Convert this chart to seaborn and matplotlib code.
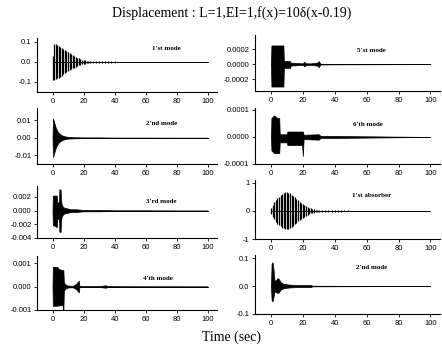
import matplotlib
matplotlib.use("Agg")
import matplotlib.pyplot as plt
import seaborn as sns

# envelopes: time (sec), upper and lower displacement
# 1'st mode (spiky)
m1_t = [0, 1, 2, 3, 4, 5, 6, 7, 8, 9, 10, 11, 12, 13, 14, 15, 16, 17, 18, 19, 20,
        21, 22, 23, 24, 26, 28, 30, 32, 34, 36, 38, 40, 42, 44, 46, 48, 50, 100]
m1_up = [0.03, 0.09, 0.088, 0.085, 0.08, 0.075, 0.07, 0.064, 0.058, 0.053, 0.048,
         0.043, 0.038, 0.033, 0.029, 0.025, 0.021, 0.018, 0.015, 0.012, 0.010,
         0.008, 0.007, 0.006, 0.005, 0.004, 0.004, 0.005, 0.005, 0.004, 0.004,
         0.003, 0.003, 0.002, 0.002, 0.002, 0.001, 0.001, 0]
m1_lo = [-0.09, -0.088, -0.085, -0.082, -0.078, -0.073, -0.068, -0.062, -0.057,
         -0.052, -0.047, -0.042, -0.037, -0.032, -0.028, -0.024, -0.020, -0.017,
         -0.014, -0.011, -0.009, -0.008, -0.007, -0.006, -0.005, -0.004, -0.004,
         -0.005, -0.005, -0.004, -0.004, -0.003, -0.003, -0.002, -0.002, -0.002,
         -0.001, -0.001, 0]

# 2'nd mode
m2_t = [0, 0.3, 1, 2, 3, 4, 5, 6, 8, 10, 12, 15, 20, 30, 40, 60, 100]
m2_up = [0, 0.011, 0.009, 0.006, 0.004, 0.0028, 0.002, 0.0014, 0.0008, 0.0005,
         0.0004, 0.0003, 0.0002, 0.0002, 0.0001, 0.0001, 0]
m2_lo = [0, -0.011, -0.009, -0.006, -0.004, -0.0028, -0.002, -0.0014, -0.0008,
         -0.0005, -0.0004, -0.0003, -0.0002, -0.0002, -0.0001, -0.0001, 0]

# 3'rd mode
m3_t = [0, 0.2, 2.8, 3.0, 4.2, 4.4, 5.2, 5.5, 6, 7, 8, 10, 12, 15, 20, 30, 40, 60, 100]
m3_up = [0, 0.0022, 0.0022, 0.0012, 0.0012, 0.0031, 0.0031, 0.0015, 0.0008, 0.0005,
         0.0004, 0.0003, 0.0002, 0.0002, 0.0001, 0.0001, 0.00005, 0.00005, 0]
m3_lo = [0, -0.0021, -0.0024, -0.0012, -0.0012, -0.0031, -0.0031, -0.0015, -0.0008,
         -0.0005, -0.0004, -0.0003, -0.0002, -0.0002, -0.0001, -0.0001, -0.00005,
         -0.00005, 0]

# 4'th mode
m4_t = [0, 0.2, 3, 4, 6, 6.8, 7.0, 7.3, 8, 10, 13, 15, 17, 17.3, 20, 30, 34, 36, 50, 100]
m4_up = [0, 0.00084, 0.00084, 0.00075, 0.0007, 0.0007, 0.0007, 0.0002, 0.0001,
         0.00004, 0.00003, 0.0001, 0.00025, 0.00003, 0.00002, 0.00002, 0.00005,
         0.00002, 0.00001, 0]
m4_lo = [0, -0.00082, -0.00082, -0.0008, -0.0008, -0.0008, -0.001, -0.0002, -0.0001,
         -0.00004, -0.00003, -0.0001, -0.00025, -0.00003, -0.00002, -0.00002,
         -0.00005, -0.00002, -0.00001, 0]

# 5'st mode
m5_t = [0, 0.3, 7.8, 8.1, 12, 12.3, 20, 21, 22, 25, 29, 30, 31, 40, 100]
m5_up = [0, 0.00025, 0.00025, 0.00004, 0.00004, 0.00002, 0.00001, 0.00003, 0.00001,
         0.00001, 0.00002, 0.00004, 0.000005, 0.000003, 0]
m5_lo = [0, -0.0003, -0.0003, -0.00005, -0.00005, -0.00002, -0.00001, -0.00003,
         -0.00001, -0.00001, -0.00002, -0.00004, -0.000005, -0.000003, 0]

# 6'th mode
m6_t = [0, 0.3, 2, 4, 5.2, 5.5, 10, 10.3, 19.5, 20, 20.5, 30, 31, 40, 50, 100]
m6_up = [0, 0.00007, 0.00008, 0.00007, 0.00007, 0.00001, 0.00001, 0.00002, 0.00002,
         0.00002, 0.000008, 0.00001, 0.000004, 0.000004, 0.000003, 0]
m6_lo = [0, -0.00005, -0.00006, -0.00006, -0.00006, -0.00002, -0.00002, -0.00003,
         -0.00003, -0.00007, -0.000008, -0.00001, -0.000004, -0.000004, -0.000003, 0]

# 1'st absorber (spiky)
a1_t = [0, 1, 2, 3, 4, 5, 6, 7, 8, 9, 10, 11, 12, 13, 14, 15, 16, 17, 18, 19, 20,
        21, 22, 23, 24, 25, 26, 27, 28, 29, 30, 32, 34, 36, 38, 40, 42, 44, 46,
        48, 50, 100]
a1_up = [0.1, 0.2, 0.3, 0.38, 0.45, 0.5, 0.55, 0.6, 0.63, 0.66, 0.66, 0.64, 0.62,
         0.58, 0.53, 0.48, 0.43, 0.38, 0.33, 0.29, 0.25, 0.21, 0.18, 0.15, 0.12,
         0.1, 0.08, 0.06, 0.05, 0.04, 0.03, 0.03, 0.03, 0.04, 0.04, 0.04, 0.03,
         0.03, 0.02, 0.02, 0.01, 0]
a1_lo = [-0.1, -0.2, -0.3, -0.38, -0.45, -0.5, -0.55, -0.6, -0.62, -0.64, -0.64,
         -0.63, -0.6, -0.56, -0.52, -0.47, -0.42, -0.37, -0.32, -0.28, -0.24,
         -0.2, -0.17, -0.14, -0.11, -0.09, -0.07, -0.06, -0.05, -0.04, -0.03,
         -0.03, -0.03, -0.04, -0.04, -0.04, -0.03, -0.03, -0.02, -0.02, -0.01, 0]

# 2'nd mode (absorber side)
a2_t = [0, 0.4, 1, 1.6, 2.2, 3, 4, 5, 6, 7, 8, 10, 12, 15, 20, 25, 26, 100]
a2_up = [0, 0.08, 0.085, 0.06, 0.02, 0.02, 0.028, 0.025, 0.015, 0.01, 0.008, 0.006,
         0.005, 0.004, 0.004, 0.004, 0.001, 0]
a2_lo = [0, -0.05, -0.055, -0.04, -0.02, -0.02, -0.025, -0.022, -0.013, -0.01,
         -0.008, -0.006, -0.005, -0.004, -0.004, -0.004, -0.001, 0]

rest = 0.0
x_ticks = [0, 20, 40, 60, 80, 100]

panels = [
    # data, kind, ylim, yticks, ytick labels, label, label pos, axes rect (px: left, top, right, bottom)
    (m1_t, m1_up, m1_lo, "spike", (-0.15, 0.12), [-0.1, 0.0, 0.1], ["-0.1", "0.0", "0.1"],
     "1'st mode", (0.72, 0.80), (37, 38, 217, 92)),
    (m5_t, m5_up, m5_lo, "fill", (-0.00036, 0.00039), [-0.0002, 0.0, 0.0002],
     ["-0.0002", "0.0000", "0.0002"], "5'st mode", (0.63, 0.73), (255, 35, 440, 91)),
    (m2_t, m2_up, m2_lo, "fill", (-0.015, 0.017), [-0.01, 0.0, 0.01],
     ["-0.01", "0.00", "0.01"], "2'nd mode", (0.69, 0.73), (37, 108, 217, 164)),
    (m6_t, m6_up, m6_lo, "fill", (-0.0001, 0.000107), [-0.0001, 0.0, 0.0001],
     ["-0.0001", "0.0000", "0.0001"], "6'th mode", (0.61, 0.70), (255, 108, 440, 164)),
    (m3_t, m3_up, m3_lo, "fill", (-0.004, 0.0036), [-0.004, -0.002, 0.0, 0.002],
     ["-0.004", "-0.002", "0.000", "0.002"], "3'rd mode", (0.69, 0.70), (37, 186, 217, 238)),
    (a1_t, a1_up, a1_lo, "spike", (-1, 1.1), [-1, 0, 1], ["-1", "0", "1"],
     "1'st absorber", (0.63, 0.73), (255, 180, 440, 239)),
    (m4_t, m4_up, m4_lo, "fill", (-0.001, 0.0013), [-0.001, 0.0, 0.001],
     ["-0.001", "0.000", "0.001"], "4'th mode", (0.67, 0.59), (37, 256, 217, 310)),
    (a2_t, a2_up, a2_lo, "fill", (-0.1, 0.111), [-0.1, 0.0, 0.1],
     ["-0.1", "0.0", "0.1"], "2'nd mode", (0.63, 0.78), (255, 255, 440, 314)),
]

sns.set_style("ticks")
plt.rcParams["font.family"] = ["Liberation Sans", "DejaVu Sans"]
plt.rcParams["text.color"] = "black"

W, H = 442, 352
fig = plt.figure(figsize=(W / 100, H / 100), dpi=100)

for t, up, lo, kind, ylim, yt, ytl, label, (lx, ly), (l, top, r, b) in panels:
    ax = fig.add_axes([l / W, 1 - b / H, (r - l) / W, (b - top) / H])
    if kind == "spike":
        ax.vlines(t, lo, up, color="black", lw=0.9)
    else:
        ax.fill_between(t, lo, up, facecolor="black", edgecolor="black", lw=0.5)
    sns.lineplot(x=[t[0], t[-1]], y=[rest, rest], ax=ax, color="black", lw=0.7)
    ax.set_xlim(-10, 106)
    ax.set_ylim(*ylim)
    ax.set_xticks(x_ticks)
    ax.set_xticklabels([str(v) for v in x_ticks])
    ax.set_yticks(yt)
    ax.set_yticklabels(ytl)
    ax.tick_params(direction="out", length=2.5, width=0.6, labelsize=5.5, pad=1.5,
                   colors="black")
    for side in ["left", "bottom"]:
        ax.spines[side].set_linewidth(0.8)
        ax.spines[side].set_color("black")
    sns.despine(ax=ax)
    ax.patch.set_alpha(0)
    ax.text(lx, ly, label, transform=ax.transAxes, ha="center", va="center",
            fontsize=5, fontweight="bold", family="Liberation Serif", color="black")

fig.text(232 / W, 1 - 13 / H, "Displacement : L=1,EI=1,f(x)=10\u03b4(x-0.19)",
         ha="center", va="center", fontsize=10, family="Liberation Serif", color="black")
fig.text(232 / W, 1 - 337 / H, "Time (sec)", ha="center", va="center",
         fontsize=10, family="Liberation Serif", color="black")

fig.savefig("out.png", dpi=100, facecolor="white")
